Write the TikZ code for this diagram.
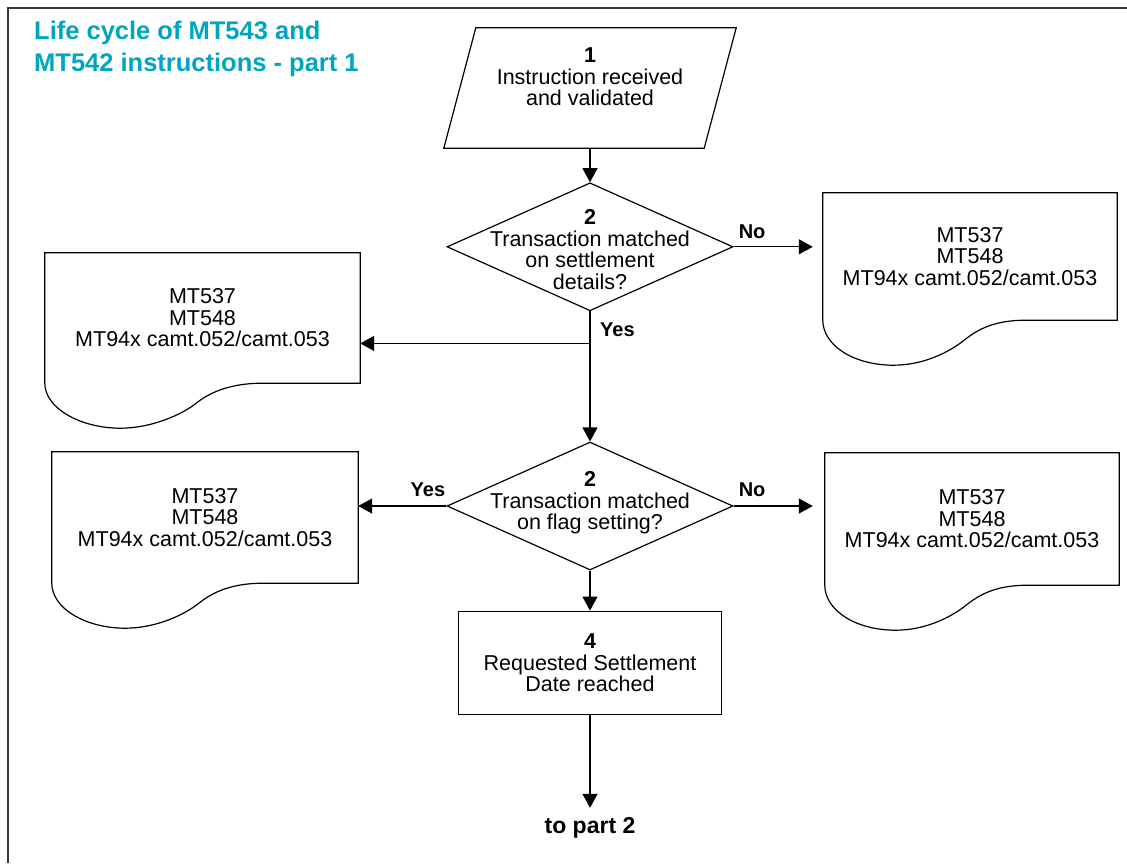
\documentclass[tikz,border=0pt]{standalone}
\usepackage{fontspec}
\setmainfont{Liberation Sans}
\usetikzlibrary{shapes.geometric,arrows.meta,positioning,calc}

\definecolor{titleteal}{RGB}{0,165,192}
\definecolor{framegray}{RGB}{55,55,55}

\tikzset{
  txt/.style={font=\fontsize{21.5pt}{21.5pt}\selectfont, align=center, inner sep=0pt},
  lbl/.style={font=\fontsize{20pt}{21pt}\selectfont\bfseries, inner sep=0pt},
  decision/.style={diamond, draw, line width=1.2pt, minimum width=286pt, minimum height=128pt, inner sep=0pt},
  process/.style={rectangle, draw, line width=1.2pt, minimum width=263pt, minimum height=103pt, txt},
  doc/.style={rectangle, txt},
  docline/.style={draw, line width=1.2pt},
  arr/.style={-{Triangle[width=15pt,length=14pt]}, line width=1.2pt},
}

\begin{document}
\begin{tikzpicture}[x=1pt,y=-1pt]
  \useasboundingbox (0,0) rectangle (1127,863);
  \draw[framegray, line width=2pt] (7.5,863) -- (7.5,7.5) -- (1127,7.5); % frame

  \node[anchor=north west, align=left, inner sep=0pt, text=titleteal,
        font=\fontsize{25.5pt}{31.5pt}\selectfont\bfseries] (title) at (34,21)
        {Life cycle of MT543 and\\MT542 instructions - part 1};

  % main column
  \node[minimum width=292pt, minimum height=120pt, inner sep=0pt] (instr) at (590,88) {};
  \draw[docline] ([xshift=32pt]instr.north west) -- (instr.north east)
     -- ([xshift=-32pt]instr.south east) -- (instr.south west) -- cycle;
  \node[txt] (instrtxt) at (590,77) {\textbf{1}\\Instruction received\\and validated};

  \node[decision, below=34pt of instr] (match1) {};
  \node[txt] (match1txt) at ($(match1)+(0,3)$) {\textbf{2}\\Transaction matched\\on settlement\\details?};

  \node[decision, below=130pt of match1] (match2) {};
  \node[txt] (match2txt) at ($(match2)+(0,-3)$) {\textbf{2}\\Transaction matched\\on flag setting?};

  \node[process, below=40pt of match2] (reach) {\textbf{4}\\Requested Settlement\\Date reached};
  \node[lbl, font=\fontsize{23pt}{24pt}\selectfont\bfseries, below=102pt of reach] (topart2) {to part 2};

  % reports
  \node[doc, minimum width=315pt, minimum height=130pt] (docL1) at (202.5,318) {MT537\\MT548\\MT94x camt.052/camt.053};
  \node[doc, minimum width=294pt, minimum height=127pt] (docR1) at (970,256.5) {MT537\\MT548\\MT94x camt.052/camt.053};
  \node[doc, minimum width=306pt, minimum height=131pt] (docL2) at (205,517.5) {MT537\\MT548\\MT94x camt.052/camt.053};
  \node[doc, minimum width=294pt, minimum height=132pt] (docR2) at (972,519) {MT537\\MT548\\MT94x camt.052/camt.053};

  \foreach \n in {docL1,docR1,docL2,docR2}
    \draw[docline] (\n.south west) -- (\n.north west) -- (\n.north east) -- (\n.south east)
      -- ($(\n.south west)!0.69!(\n.south east)$)
      .. controls +(-30,0) and +(15,-12) .. ($(\n.south west)!0.48!(\n.south east)+(0,20)$)
      .. controls +(-15,12) and +(30,0) .. ($(\n.south west)!0.24!(\n.south east)+(0,45)$)
      .. controls +(-40,0) and +(0,25) .. (\n.south west);

  % labels
  \node[lbl, anchor=south west] (no1) at ($(match1.east)+(5,-8)$) {No};
  \node[lbl, anchor=north west] (yes1) at ($(match1.south)+(10,11)$) {Yes};
  \node[lbl, anchor=south east] (yes2) at ($(match2.west)+(-1,-9)$) {Yes};
  \node[lbl, anchor=south west] (no2) at ($(match2.east)+(5,-9)$) {No};

  \coordinate[below=32pt of match1] (split1);

  \draw[arr] (instr) -- (match1);
  \draw[arr] (match1) -- (match2);
  \draw[arr] (match2) -- (reach);
  \draw[arr, shorten >=9pt] (reach) -- (topart2);
  \draw[arr] (split1) -- (split1 -| docL1.east);
  \draw[arr] (match1.east) -- ($(match1.east -| docR1.west)+(-10,0)$);
  \draw[arr] (match2.west) -- (match2.west -| docL2.east);
  \draw[arr] (match2.east) -- ($(match2.east -| docR2.west)+(-12,0)$);
\end{tikzpicture}
\end{document}
